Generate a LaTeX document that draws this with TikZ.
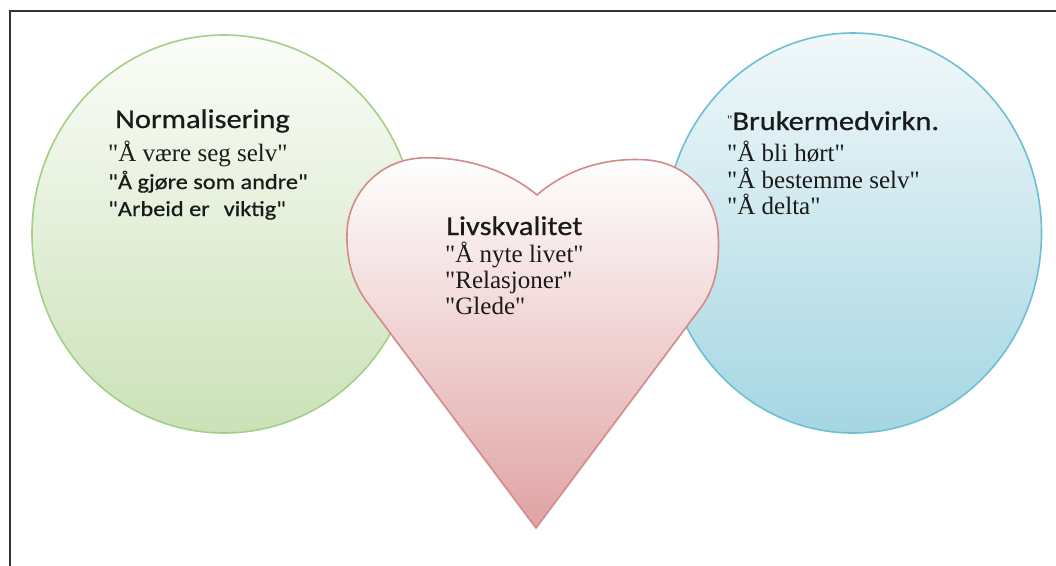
\documentclass[tikz,border=0pt]{standalone}
\usepackage{fontspec}
\setmainfont{Liberation Serif}
\newfontfamily\serifont{Liberation Serif}
\newfontfamily\hdfont{Carlito}[FakeStretch=1.13,FakeBold=0.6]
\usetikzlibrary{shapes.geometric}
\definecolor{frameC}{HTML}{333333}
\definecolor{gEdge}{HTML}{A3CF86}
\definecolor{gTop}{HTML}{FBFDF9}
\definecolor{gBot}{HTML}{CBE1B8}
\definecolor{bEdge}{HTML}{6CC0D4}
\definecolor{bTop}{HTML}{F1F8FA}
\definecolor{bBot}{HTML}{A5D6E2}
\definecolor{rEdge}{HTML}{D4898A}
\definecolor{rTop}{HTML}{FFFFFF}
\definecolor{rBot}{HTML}{E0A3A4}
\definecolor{txt}{HTML}{1A1A1A}
\tikzset{
  framestyle/.style={draw=frameC, line width=2pt},
  blob/.style={ellipse, inner sep=0pt, line width=1.6pt},
  head/.style={anchor=base west, inner sep=0pt, text=txt, font=\hdfont\fontsize{27}{30}\selectfont},
  sansline/.style={anchor=base west, inner sep=0pt, text=txt, font=\hdfont\fontsize{21.5}{24}\selectfont},
  serifline/.style={anchor=base west, inner sep=0pt, text=txt, font=\serifont\fontsize{25}{28}\selectfont},
}
\begin{document}
\begin{tikzpicture}[x=1pt,y=-1pt]
\useasboundingbox (0,0) rectangle (1056,565);
\fill[white] (0,0) rectangle (1056,565);
% frame
\coordinate (fa) at (10,566);
\coordinate (fb) at (10,11);
\coordinate (fc) at (1057,11);
\draw[framestyle] (fa) -- (fb) -- (fc);
% circles
\node[blob, draw=gEdge, top color=gTop, bottom color=gBot, minimum width=384pt, minimum height=398pt] (norm) at (224,234) {};
\node[blob, draw=bEdge, top color=bTop, bottom color=bBot, minimum width=377pt, minimum height=400pt] (bruk) at (853,233) {};
% heart
\draw[draw=rEdge, line width=1.6pt, top color=rTop, bottom color=rBot, line join=round]
  (537,195) .. controls (505,168) and (460,156) .. (420,158)
  .. controls (375,161) and (348,198) .. (347,232)
  .. controls (346,262) and (354,286) .. (370,306)
  -- (536,528)
  -- (702,306)
  .. controls (716,286) and (720,262) .. (718,232)
  .. controls (716,198) and (690,164) .. (648,160)
  .. controls (608,157) and (568,168) .. (537,195) -- cycle;
% texts: Normalisering
\node[head] (n0) at (115,128) {Normalisering};
\node[serifline] (n1) at (108,161) {"Å være seg selv"};
\node[sansline] (n2) at (108,189) {"Å gjøre som andre"};
\node[sansline] (n3) at (108,216) {"Arbeid er\hspace{14pt}viktig"};
% Livskvalitet
\node[head] (l0) at (446,235) {Livskvalitet};
\node[serifline] (l1) at (445,262) {"Å nyte livet"};
\node[serifline] (l2) at (445,288) {"Relasjoner"};
\node[serifline] (l3) at (445,314) {"Glede"};
% Brukermedvirkn.
\node[head] (b0) at (727,130) {\raisebox{6pt}{\serifont\fontsize{13}{13}\selectfont"}Brukermedvirkn.};
\node[serifline] (b1) at (727,161) {"Å bli hørt"};
\node[serifline] (b2) at (727,188) {"Å bestemme selv"};
\node[serifline] (b3) at (727,214) {"Å delta"};
\end{tikzpicture}
\end{document}
